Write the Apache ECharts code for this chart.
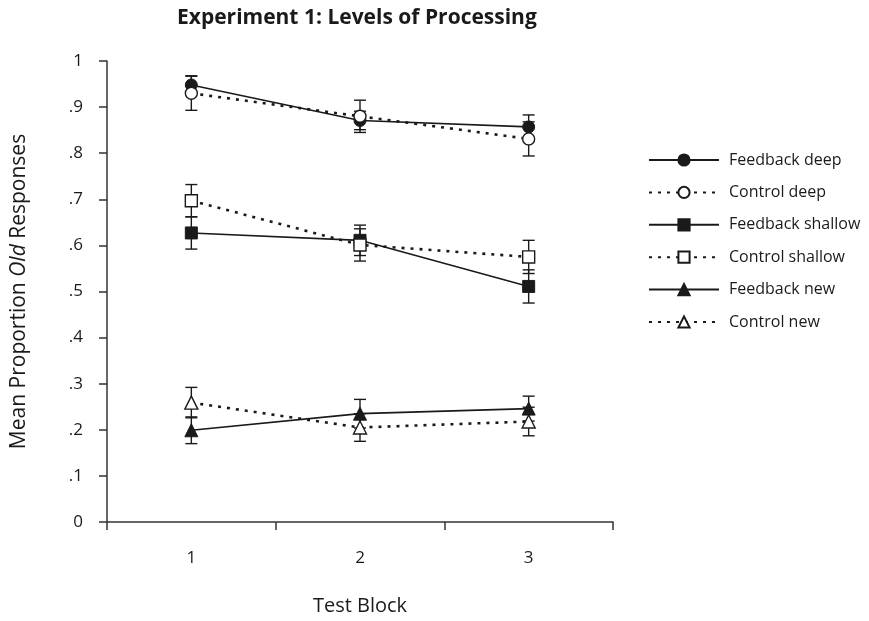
<!DOCTYPE html>
<html>
<head>
<meta charset="utf-8">
<script src="https://cdn.jsdelivr.net/npm/echarts@6/dist/echarts.min.js"></script>
<style>
html,body{margin:0;padding:0;background:#fff;}
#chart{width:869px;height:621px;}
</style>
</head>
<body>
<div id="chart"></div>
<script>
var categories = ['1', '2', '3'];
var yTickLabels = ['0', '.1', '.2', '.3', '.4', '.5', '.6', '.7', '.8', '.9', '1'];

var feedbackDeep = [0.948, 0.871, 0.857];
var feedbackDeepErr = [0.020, 0.020, 0.026];
var controlDeep = [0.930, 0.880, 0.831];
var controlDeepErr = [0.037, 0.035, 0.037];
var feedbackShallow = [0.627, 0.611, 0.511];
var feedbackShallowErr = [0.035, 0.033, 0.036];
var controlShallow = [0.697, 0.601, 0.575];
var controlShallowErr = [0.035, 0.035, 0.036];
var feedbackNew = [0.199, 0.235, 0.246];
var feedbackNewErr = [0.029, 0.031, 0.027];
var controlNew = [0.259, 0.205, 0.218];
var controlNewErr = [0.033, 0.030, 0.031];

var seriesNames = ['Feedback deep', 'Control deep', 'Feedback shallow', 'Control shallow', 'Feedback new', 'Control new'];
var seriesValues = [feedbackDeep, controlDeep, feedbackShallow, controlShallow, feedbackNew, controlNew];
var seriesErrs = [feedbackDeepErr, controlDeepErr, feedbackShallowErr, controlShallowErr, feedbackNewErr, controlNewErr];
var seriesSymbols = ['circle', 'circle', 'rect', 'rect', 'triangle', 'triangle'];
var seriesFilled = [true, false, true, false, true, false];

var INK = '#1a1a1a';
var FONT = 'Open Sans';

var chart = echarts.init(document.getElementById('chart'), null, {renderer: 'canvas'});

var series = [];
seriesNames.forEach(function (name, s) {
  var errData = seriesValues[s].map(function (v, i) {
    return [i, v - seriesErrs[s][i], v + seriesErrs[s][i]];
  });
  series.push({
    type: 'custom',
    name: name + ' error',
    data: errData,
    z: 1,
    silent: true,
    renderItem: function (params, api) {
      var x = api.value(0);
      var lo = api.coord([x, api.value(1)]);
      var hi = api.coord([x, api.value(2)]);
      var hw = 6;
      var st = {stroke: INK, lineWidth: 1.4};
      return {
        type: 'group',
        children: [
          {type: 'line', shape: {x1: lo[0], y1: lo[1], x2: hi[0], y2: hi[1]}, style: st},
          {type: 'line', shape: {x1: lo[0] - hw, y1: lo[1], x2: lo[0] + hw, y2: lo[1]}, style: st},
          {type: 'line', shape: {x1: hi[0] - hw, y1: hi[1], x2: hi[0] + hw, y2: hi[1]}, style: st}
        ]
      };
    },
    encode: {x: 0, y: [1, 2]}
  });
});
seriesNames.forEach(function (name, s) {
  var filled = seriesFilled[s];
  var sym = seriesSymbols[s];
  series.push({
    type: 'line',
    name: name,
    data: seriesValues[s],
    z: 3,
    symbol: sym,
    symbolSize: sym === 'triangle' ? 13 : 12,
    showAllSymbol: true,
    lineStyle: filled ? {color: INK, width: 1.6, type: 'solid'} : {color: INK, width: 2.6, type: [3, 6]},
    itemStyle: filled ? {color: INK, borderColor: INK, borderWidth: 1} : {color: '#fff', borderColor: INK, borderWidth: 1.4},
    emphasis: {disabled: true},
    animation: false
  });
});

var option = {
  animation: false,
  backgroundColor: '#fff',
  textStyle: {fontFamily: FONT, color: INK},
  title: {
    text: 'Experiment 1: Levels of Processing',
    left: 172,
    top: 3,
    textStyle: {fontFamily: FONT, fontSize: 21, fontWeight: 'bold', color: INK}
  },
  legend: {
    orient: 'vertical',
    left: 643,
    top: 145,
    itemWidth: 70,
    itemHeight: 14,
    itemGap: 12.4,
    data: seriesNames,
    textStyle: {fontFamily: FONT, fontSize: 16, lineHeight: 20, color: INK, padding: [0, 0, 0, 5]},
    selectedMode: false
  },
  grid: {left: 107, right: 256, top: 61, bottom: 96, containLabel: false},
  xAxis: {
    type: 'category',
    data: categories,
    boundaryGap: true,
    name: 'Test Block',
    nameLocation: 'middle',
    nameGap: 74,
    nameTextStyle: {fontFamily: FONT, fontSize: 20, color: INK},
    axisLine: {lineStyle: {color: '#333', width: 1.5}},
    axisTick: {show: true, inside: false, length: 8, alignWithLabel: false, lineStyle: {color: '#333', width: 1.5}},
    axisLabel: {fontFamily: FONT, fontSize: 17, color: INK, margin: 28},
    splitLine: {show: false}
  },
  yAxis: {
    type: 'value',
    min: 0,
    max: 1,
    interval: 0.1,
    name: 'Mean Proportion {i|Old} Responses',
    nameLocation: 'middle',
    nameGap: 77,
    nameRotate: 90,
    nameTextStyle: {
      fontFamily: FONT, fontSize: 21, color: INK,
      rich: {i: {fontFamily: FONT, fontSize: 21, fontStyle: 'italic', color: INK}}
    },
    axisLine: {show: true, lineStyle: {color: '#333', width: 1.5}},
    axisTick: {show: true, inside: false, length: 8, lineStyle: {color: '#333', width: 1.5}},
    axisLabel: {
      fontFamily: FONT, fontSize: 17, color: INK, margin: 24,
      formatter: function (v) { return yTickLabels[Math.round(v * 10)]; }
    },
    splitLine: {show: false}
  },
  series: series
};
chart.setOption(option);
</script>
</body>
</html>
